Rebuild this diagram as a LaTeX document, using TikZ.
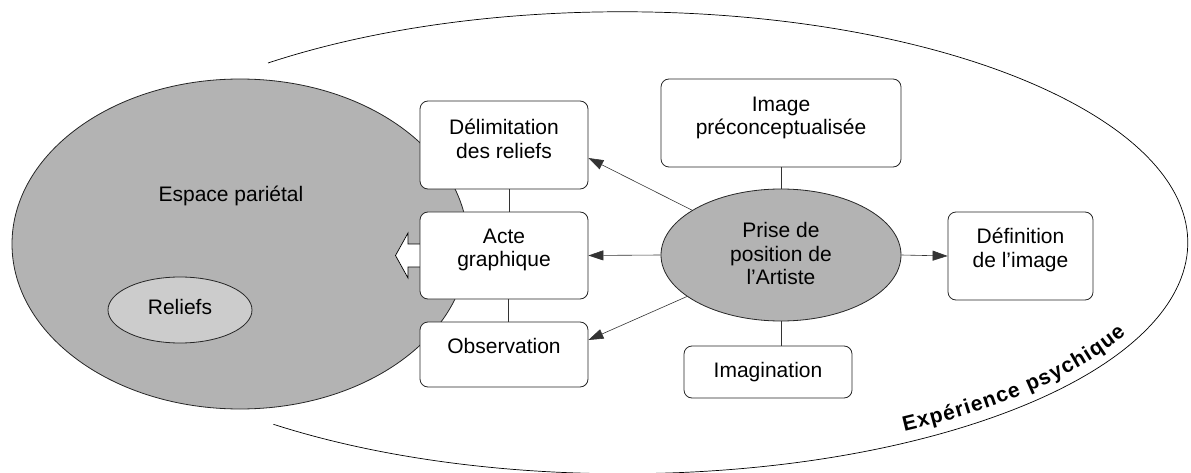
\documentclass[tikz,border=0pt]{standalone}
\usepackage{fontspec}
\setmainfont{Liberation Sans}
\usetikzlibrary{arrows.meta,decorations.text,shapes.geometric}
\definecolor{midgray}{HTML}{B3B3B3}
\definecolor{lightgray2}{HTML}{CCCCCC}
\begin{document}
\begin{tikzpicture}[x=1pt,y=1pt,
  box/.style={draw=black!85, line width=0.8pt, rounded corners=8pt, fill=white, minimum width=168pt, minimum height=87pt, inner sep=0pt},
  oval/.style={ellipse, draw=black!85, line width=0.8pt, inner sep=0pt},
  txt/.style={align=center, font=\fontsize{21}{23.7}\selectfont, inner sep=0pt},
  conn/.style={draw=black!80, line width=0.6pt},
  arr/.style={conn, -{Triangle[length=15pt,width=10pt]}},
]
\useasboundingbox (0,0) rectangle (1191,-473);

% outer open ellipse
\draw[line width=0.7pt] (268,-63) arc[start angle=128.9, end angle=-128.2, x radius=565, y radius=231];

% Espace pariétal
\node[oval, fill=midgray, minimum width=456pt, minimum height=330pt] (esp) at (240,-244) {};
\node[txt] (esptxt) at (231,-196) {Espace pariétal};
\node[oval, fill=lightgray2, minimum width=144pt, minimum height=66pt] (rel) at (180,-310) {};
\node[txt] (reltxt) at (180,-307) {Reliefs};

% hollow arrow
\draw[line width=0.7pt, fill=white] (420,-244) coordinate (ha1) -- ++(-12,0) -- ++(0,11) -- ++(-12.5,-22.5) -- ++(12.5,-22.5) -- ++(0,11) -- ++(12,0) coordinate (ha2);

% boxes
\node[box, minimum height=88pt] (del) at (504,-145) {};
\node[txt] (deltxt) at (504,-139) {Délimitation\\des reliefs};
\node[box] (acte) at (504,-255.5) {};
\node[txt] (actetxt) at (504,-250) {Acte\\graphique};
\node[box, minimum height=65pt] (obs) at (504,-354.5) {};
\node[txt] (obstxt) at (504,-346) {Observation};
\node[box, minimum width=240pt, minimum height=88pt] (img) at (781,-123) {};
\node[txt] (imgtxt) at (781,-118) {Image\\préconceptualisée};
\node[box, minimum width=145pt, minimum height=88pt] (def) at (1020.5,-256) {};
\node[txt] (deftxt) at (1020.5,-250) {Définition\\de l’image};
\node[box, minimum height=52pt] (imag) at (768,-372) {};
\node[txt] (imagtxt) at (768,-372) {Imagination};

% central ellipse
\node[oval, fill=midgray, minimum width=240pt, minimum height=132pt] (ell) at (781,-255) {};
\node[txt] (elltxt) at (781,-253.5) {Prise de\\position de\\l’Artiste};

% connectors
\draw[conn] ([xshift=5pt]del.south) -- ([xshift=5pt]acte.north);
\draw[conn] ([xshift=4pt]acte.south) -- ([xshift=4pt]obs.north);
\draw[conn] (img.south) -- (ell.north);
\draw[conn] (ell.south) -- (ell.south |- imag.north);
\draw[arr] (ell) -- ([yshift=-13pt]del.east);
\draw[arr] (ell.west) -- (acte.east);
\draw[arr] (ell) -- ([yshift=14.5pt]obs.east);
\draw[arr] (ell.east) -- (def.west);

% curved label
\path[decorate, decoration={text effects along path, text={Expérience psychique}, text align=left,
  text effects/.cd, text along path,
  characters={font=\fontsize{21}{21}\selectfont\bfseries, inner xsep=0.6pt},
  character widths={font=\fontsize{21}{21}\selectfont\bfseries, inner xsep=0.6pt}}]
  (623,-243) ++(-59.5:553 and 219) arc[start angle=-59.5, end angle=-12, x radius=553, y radius=219];
\end{tikzpicture}
\end{document}
